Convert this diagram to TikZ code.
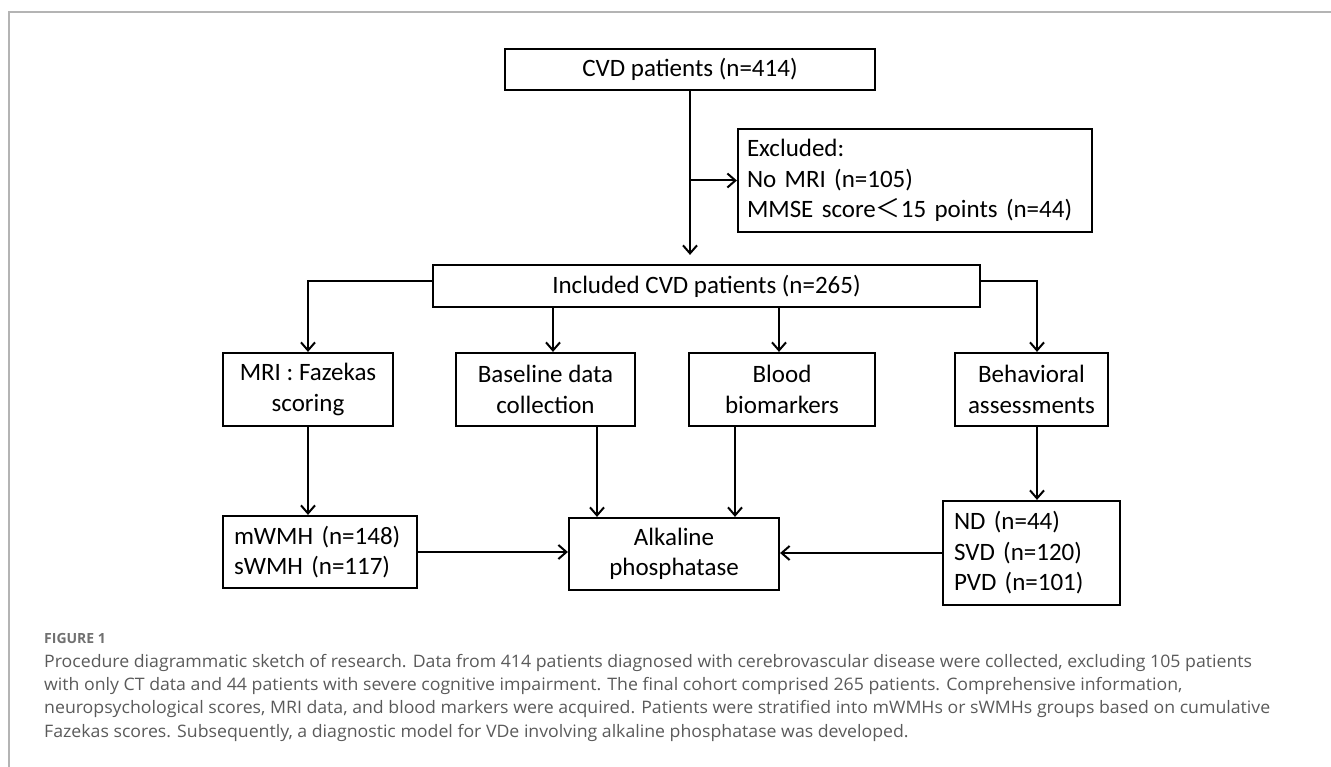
\documentclass[tikz,border=0pt]{standalone}
\usepackage{fontspec}
\usepackage{graphicx}
\setmainfont{Carlito}
\newfontfamily\capfont{Open Sans}
\newfontfamily\cjk{Noto Sans CJK SC}
\usetikzlibrary{arrows.meta}
\definecolor{capgray}{HTML}{5A5A5A}
\definecolor{figgray}{HTML}{707070}
\definecolor{framegray}{HTML}{B4B4B4}

\begin{document}
\begin{tikzpicture}[
  x=1pt, y=-1pt,
  box/.style={rectangle,draw,line width=2.2pt,align=center,inner sep=0pt,
    font=\fontsize{25}{30.5}\selectfont,minimum height=73pt},
  listbox/.style={box,align=left,inner xsep=11pt},
  arr/.style={-{Straight Barb[length=8pt,width=14pt]},line width=2pt}
]
\useasboundingbox (0,0) rectangle (1331,767);

% frame
\draw[framegray,line width=1.5pt] (1331,12) -- (9,12) -- (9,767);

% boxes
\node[box,minimum width=370pt,minimum height=41pt] (cvd) at (690,69.5) {CVD patients (n=414)};
\node[listbox,text width=336pt,inner xsep=9pt,minimum height=103pt] (excl) at (915,180.5)
  {Excluded:\\No MRI (n=105)\\MMSE score{\cjk ＜}15 points (n=44)};
\node[box,minimum width=547pt,minimum height=42pt] (incl) at (706.5,286) {Included CVD patients (n=265)};

\node[box,minimum width=170pt] (mri) at (308,389.5) {MRI : Fazekas\\scoring};
\node[box,minimum width=179pt] (base) at (545.5,389.5) {Baseline data\\collection};
\node[box,minimum width=186pt] (blood) at (782,389.5) {Blood\\biomarkers};
\node[box,minimum width=153pt] (behav) at (1031.5,389.5) {Behavioral\\assessments};

\node[listbox,text width=172pt,minimum height=72pt] (wmh) at (320,552) {mWMH (n=148)\\sWMH (n=117)};
\node[box,minimum width=210pt,minimum height=72pt] (alp) at (674,554) {Alkaline\\phosphatase};
\node[listbox,text width=155pt,minimum height=104pt] (grp) at (1031.5,553)
  {ND (n=44)\\SVD (n=120)\\PVD (n=101)};

% connectors
\draw[arr,shorten >=9pt] (cvd.south) -- (cvd.south |- incl.north);
\draw[arr] (cvd.south |- excl.west) -- (excl.west);
\draw[arr] ([yshift=5pt]incl.west) -| (mri.north);
\draw[arr] ([yshift=5pt]incl.east) -| ([xshift=5.5pt]behav.north);
\draw[arr] ([xshift=7.5pt]base.north |- incl.south) -- ([xshift=7.5pt]base.north);
\draw[arr] ([xshift=-3pt]blood.north |- incl.south) -- ([xshift=-3pt]blood.north);
\draw[arr] (mri.south) -- (mri.south |- wmh.north);
\draw[arr] ([xshift=-77pt]alp.north |- base.south) -- ([xshift=-77pt]alp.north);
\draw[arr] ([xshift=61pt]alp.north |- blood.south) -- ([xshift=61pt]alp.north);
\draw[arr] ([xshift=5.5pt]behav.south) -- ([xshift=5.5pt]behav.south |- grp.north);
\draw[arr] (wmh.east) -- (wmh.east -| alp.west);
\draw[arr] (grp.west) -- (grp.west -| alp.east);

% caption
\node[anchor=west,inner sep=0pt,text=figgray,font=\capfont\bfseries\fontsize{14}{16}\selectfont] (fig) at (44,638) {FIGURE 1};
\node[anchor=north west,inner sep=0pt,text=capgray] (cap) at (44,651)
  {\resizebox{1226pt}{\height}{\capfont\fontsize{17.2}{23.2}\selectfont
   \begin{tabular}{@{}l@{}}
   Procedure diagrammatic sketch of research. Data from 414 patients diagnosed with cerebrovascular disease were collected, excluding 105 patients\\
   with only CT data and 44 patients with severe cognitive impairment. The final cohort comprised 265 patients. Comprehensive information,\\
   neuropsychological scores, MRI data, and blood markers were acquired. Patients were stratified into mWMHs or sWMHs groups based on cumulative\\
   Fazekas scores. Subsequently, a diagnostic model for VDe involving alkaline phosphatase was developed.
   \end{tabular}}};
\end{tikzpicture}
\end{document}
